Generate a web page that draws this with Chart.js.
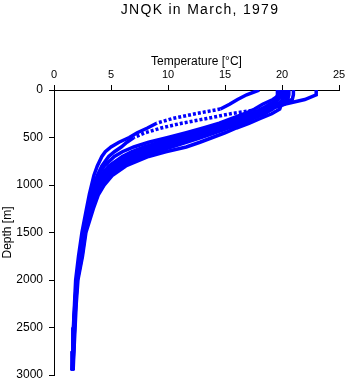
<!DOCTYPE html>
<html>
<head>
<meta charset="utf-8">
<script src="https://cdn.jsdelivr.net/npm/chart.js@4"></script>
<style>
  html, body { margin: 0; padding: 0; background: #fff; }
  #wrap { width: 348px; height: 384px; }
</style>
</head>
<body>
<div id="wrap"><canvas id="profileChart" width="348" height="384"></canvas></div>
<script>
const chartTitle = 'JNQK in March, 1979';
const xTicks = [0, 5, 10, 15, 20, 25];
const yTicks = [0, 500, 1000, 1500, 2000, 2500, 3000];

// depth levels [m] shared by all casts
const depths = [0, 50, 100, 150, 200, 250, 300, 350, 400, 450, 500, 550, 600, 650, 700, 800, 900, 1000, 1100, 1250, 1500, 1750, 2000, 2250, 2500, 2750, 2950];

// temperature [°C] per cast
const castA = [18.0, 16.9, 16.1, 15.4, 14.6, 12.4, 10.4, 9.0, 8.2, 7.3, 6.6, 5.7, 5.0, 4.5, 4.2, 3.8, 3.5, 3.3, 3.1, 2.85, 2.45, 2.15, 1.9, 1.8, 1.7, 1.65, 1.6];
const castB = [19.6, 19.6, 19.5, 19.3, 18.2, 15.5, 13.4, 11.2, 9.4, 8.0, 7.0, 6.4, 5.9, 5.3, 4.8, 4.2, 3.8, 3.5, 3.3, 3.0, 2.55, 2.25, 1.98, 1.83, 1.72, 1.65, 1.6];
const castC = [19.8, 19.8, 19.2, 18.3, 17.6, 16.7, 15.6, 14.5, 13.1, 11.6, 10.0, 8.3, 7.0, 6.0, 5.3, 4.4, 3.9, 3.5, 3.3, 3.05, 2.6, 2.3, 2.0, 1.86, 1.75, 1.67, 1.62];
const castD = [20.4, 20.4, 20.35, 20.2, 18.9, 18.0, 16.9, 15.8, 14.6, 13.3, 12.0, 10.4, 9.0, 7.8, 6.8, 5.4, 4.5, 3.9, 3.55, 3.2, 2.7, 2.35, 2.02, 1.88, 1.78, 1.7, 1.63];
const castE = [21.0, 21.0, 20.9, 19.4, 18.4, 17.5, 16.4, 15.2, 14.0, 12.6, 11.2, 9.8, 8.5, 7.4, 6.4, 5.1, 4.3, 3.75, 3.45, 3.1, 2.65, 2.3, 2.0, 1.86, 1.76, 1.68, 1.62];
const castF = [23.0, 23.0, 22.0, 20.2, 18.6, 17.2, 16.0, 14.9, 13.6, 12.2, 10.8, 9.4, 8.1, 7.0, 6.1, 4.9, 4.15, 3.65, 3.4, 3.05, 2.6, 2.28, 1.99, 1.85, 1.75, 1.67, 1.61];
const castG = [20.2, 20.2, 20.1, 19.7, 18.8, 17.9, 16.8, 15.6, 14.4, 13.1, 11.7, 10.2, 8.8, 7.6, 6.6, 5.2, 4.4, 3.85, 3.5, 3.15, 2.68, 2.33, 2.02, 1.87, 1.77, 1.69, 1.62];
const castH = [19.7, 19.7, 19.6, 19.5, 19.2, 18.5, 17.5, 16.5, 15.3, 14.1, 12.9, 11.6, 10.3, 8.9, 7.7, 5.9, 4.8, 4.1, 3.7, 3.3, 2.75, 2.45, 2.05, 1.9, 1.8, 1.72, 1.65];
const castI = [20.0, 20.0, 20.0, 19.95, 19.8, 19.1, 18.1, 17.1, 16.0, 15.0, 13.9, 12.8, 11.6, 9.8, 8.3, 6.3, 5.1, 4.4, 3.9, 3.45, 2.8, 2.5, 2.1, 1.95, 1.85, 1.75, 1.68];
const castJ = [19.9, 19.9, 19.7, 18.9, 18.2, 17.3, 16.2, 15.1, 13.8, 12.4, 10.9, 9.3, 7.9, 6.8, 6.0, 4.8, 4.1, 3.6, 3.35, 3.05, 2.6, 2.28, 1.98, 1.85, 1.74, 1.66, 1.61];
const castK = [20.6, 20.6, 20.5, 20.0, 19.0, 18.2, 17.2, 16.1, 14.9, 13.7, 12.4, 11.0, 9.6, 8.3, 7.2, 5.6, 4.6, 4.0, 3.6, 3.25, 2.72, 2.4, 2.04, 1.9, 1.8, 1.71, 1.64];

const casts = [castA, castB, castC, castD, castE, castF, castG, castH, castI, castJ, castK];
// casts A and B are sparsely sampled in the thermocline, drawn dotted there
const sparseDepth = [[200, 350], [200, 500]];

const font = '"Liberation Sans", Arial, sans-serif';

const titlePlugin = {
  id: 'plotTitle',
  afterDraw(chart) {
    const ctx = chart.ctx;
    ctx.save();
    ctx.font = '14px ' + font;
    ctx.fillStyle = '#000';
    ctx.textAlign = 'center';
    ctx.textBaseline = 'alphabetic';
    if ('letterSpacing' in ctx) ctx.letterSpacing = '1.3px';
    ctx.fillText(chartTitle, 200, 14);
    ctx.restore();
  }
};

const ctx = document.getElementById('profileChart').getContext('2d');
new Chart(ctx, {
  type: 'scatter',
  data: {
    datasets: casts.map((temps, k) => ({
      data: depths.map((d, i) => ({ x: temps[i], y: d })),
      showLine: true,
      borderColor: '#0000ff',
      backgroundColor: '#0000ff',
      borderWidth: 3.5,
      pointRadius: 0,
      tension: 0,
      segment: {
        borderDash: c => {
          const r = sparseDepth[k];
          return r && c.p0.parsed.y >= r[0] && c.p1.parsed.y <= r[1] ? [3, 2] : undefined;
        },
      },
    })),
  },
  options: {
    responsive: false,
    animation: false,
    layout: { padding: { top: 54, left: 0, right: 9, bottom: 9 } },
    plugins: {
      legend: { display: false },
      tooltip: { enabled: false },
      title: { display: false },
    },
    scales: {
      x: {
        type: 'linear',
        position: 'top',
        min: 0,
        max: 25,
        afterBuildTicks: scale => { scale.ticks = xTicks.map(v => ({ value: v })); },
        afterFit: scale => { scale.height = 36; scale.paddingLeft = 0; scale.paddingRight = 0; },
        ticks: { color: '#000', padding: 3, font: { family: font, size: 11 }, callback: v => String(v) },
        grid: { drawOnChartArea: false, color: '#000', tickLength: 5, tickWidth: 1 },
        border: { display: true, color: '#000', width: 1 },
        title: {
          display: true,
          text: 'Temperature [°C]',
          color: '#000',
          font: { family: font, size: 12 },
          padding: { top: 0, bottom: 0 },
        },
      },
      y: {
        type: 'linear',
        reverse: true,
        min: 0,
        max: 3000,
        afterBuildTicks: scale => { scale.ticks = yTicks.map(v => ({ value: v })); },
        afterFit: scale => { scale.width = 54; scale.paddingTop = 0; scale.paddingBottom = 0; },
        ticks: { color: '#000', padding: 6, font: { family: font, size: 12 }, callback: v => String(v) },
        grid: { drawOnChartArea: false, color: '#000', tickLength: 5, tickWidth: 1 },
        border: { display: true, color: '#000', width: 1 },
        title: {
          display: true,
          text: 'Depth [m]',
          color: '#000',
          font: { family: font, size: 12 },
          padding: { top: 0, bottom: 0 },
        },
      },
    },
  },
  plugins: [titlePlugin],
});
</script>
</body>
</html>
